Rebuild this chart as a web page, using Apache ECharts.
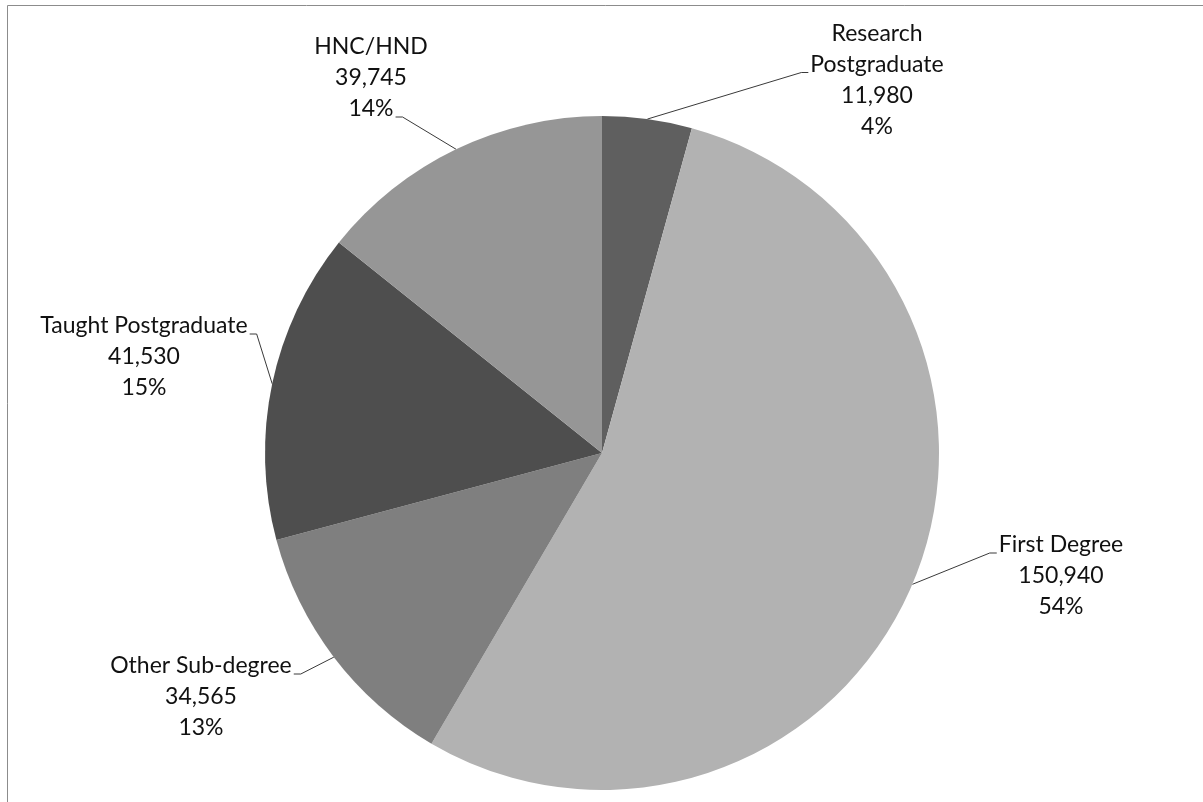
<!DOCTYPE html>
<html>
<head>
<meta charset="utf-8">
<script src="https://cdn.jsdelivr.net/npm/echarts@6/dist/echarts.min.js"></script>
<style>
html, body { margin: 0; padding: 0; background: #fff; }
#main { width: 1203px; height: 802px; }
</style>
</head>
<body>
<div id="main"></div>
<script>
// categories, clockwise from 12 o'clock
var names = ['Research\nPostgraduate', 'First Degree', 'Other Sub-degree', 'Taught Postgraduate', 'HNC/HND'];
var values = [11980, 150940, 34565, 41530, 39745];
var pctLabels = ['4%', '54%', '13%', '15%', '14%']; // as printed on the chart
var colors = ['#5f5f5f', '#b2b2b2', '#7f7f7f', '#4e4e4e', '#969696'];
// where each label block sits (centre of block)
var labelPos = [[877, 80], [1061, 576], [201, 697], [144, 357], [371, 78]];
// leader line attaches to: [line index in block, side]
var attach = [[1, 'left'], [0, 'left'], [0, 'right'], [0, 'right'], [2, 'right']];
var LINE_H = 31;
var FONT = '23px Lato';

var chart = echarts.init(document.getElementById('main'));

function fmt(n) {
    return n.toString().replace(/\B(?=(\d{3})+(?!\d))/g, ',');
}
function labelLines(i) {
    return names[i].split('\n').concat([fmt(values[i]), pctLabels[i]]);
}
var ctx = document.createElement('canvas').getContext('2d');
function textWidth(s) {
    ctx.font = FONT;
    return ctx.measureText(s).width;
}

var pieData = [];
for (var i = 0; i < names.length; i++) {
    pieData.push({ name: names[i], value: values[i], itemStyle: { color: colors[i] } });
}

var option = {
    animation: false,
    backgroundColor: '#fff',
    graphic: [
        // chart frame, only top and left edges show
        { type: 'polyline', shape: { points: [[7.5, 802], [7.5, 5.5], [1203, 5.5]] }, style: { stroke: '#8c8c8c', lineWidth: 1, fill: null } }
    ],
    series: [
        {
            type: 'pie',
            center: [602, 453],
            radius: 337,
            startAngle: 90,
            clockwise: true,
            avoidLabelOverlap: false,
            data: pieData,
            itemStyle: { borderWidth: 0 },
            label: {
                show: true,
                position: 'outside',
                formatter: function (p) {
                    return labelLines(p.dataIndex).join('\n');
                },
                fontFamily: 'Lato',
                fontSize: 23,
                lineHeight: LINE_H,
                color: '#111',
                align: 'center'
            },
            labelLine: {
                show: true,
                lineStyle: { color: '#3a3a3a', width: 1 }
            },
            labelLayout: function (params) {
                var i = params.dataIndex;
                var pos = labelPos[i];
                var lines = labelLines(i);
                var a = attach[i];
                var w = textWidth(lines[a[0]]);
                var y = pos[1] + (a[0] - (lines.length - 1) / 2) * LINE_H + 8;
                var dir = a[1] === 'left' ? -1 : 1;
                var x = pos[0] + dir * (w / 2 + 2);
                var p0 = params.labelLinePoints ? params.labelLinePoints[0] : [x, y];
                return {
                    x: pos[0],
                    y: pos[1],
                    align: 'center',
                    verticalAlign: 'middle',
                    labelLinePoints: [p0, [x + dir * 7, y], [x, y]]
                };
            },
            emphasis: { disabled: true }
        }
    ]
};
chart.setOption(option);
</script>
</body>
</html>
